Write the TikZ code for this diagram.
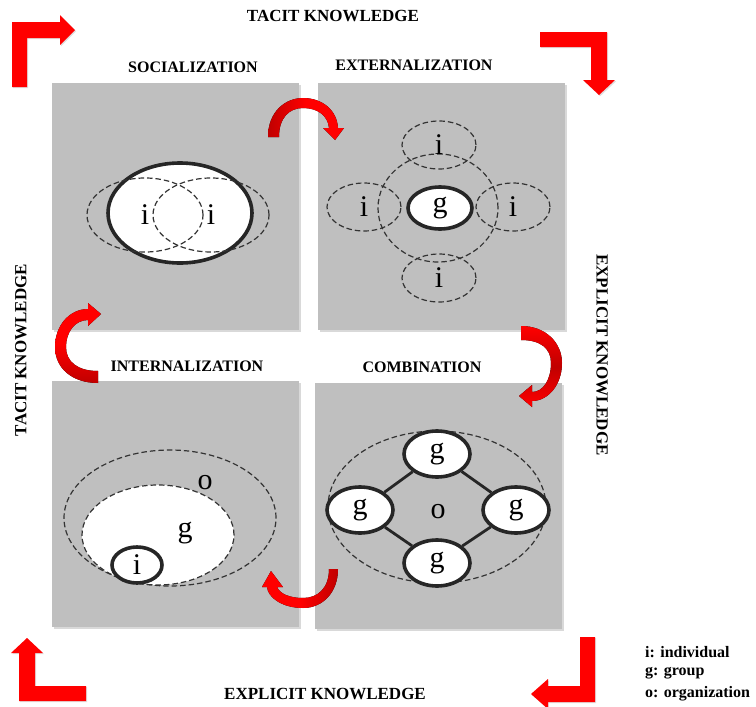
\documentclass[tikz,border=0pt]{standalone}
\usepackage{fontspec}
\setmainfont{Liberation Serif}
\usetikzlibrary{shapes.geometric,shadows}
\definecolor{panelgray}{HTML}{BFBFBF}
\definecolor{inkgray}{HTML}{333333}
\definecolor{rimblack}{HTML}{262626}
\definecolor{arrowred}{HTML}{FF0000}
\definecolor{deepred}{HTML}{C00000}

\begin{document}
\begin{tikzpicture}[x=1pt,y=-1pt,
  panel/.style={fill=panelgray,draw=none,
    drop shadow={shadow xshift=1.5pt,shadow yshift=-1.5pt,opacity=0.3}},
  phase/.style={font=\fontsize{16}{18}\selectfont\bfseries},
  axislabel/.style={font=\fontsize{17}{19}\selectfont\bfseries},
  legendtext/.style={font=\fontsize{16}{18}\selectfont\bfseries,anchor=west,inner sep=0pt},
  letter/.style={font=\fontsize{30}{32}\selectfont,inner sep=0pt},
  member/.style={ellipse,draw=inkgray,dash pattern=on 5.5pt off 3pt,line width=1.2pt,
    inner sep=0pt,font=\fontsize{30}{32}\selectfont},
  unit/.style={ellipse,draw=rimblack,fill=white,line width=3.6pt,inner sep=0pt,
    font=\fontsize{30}{32}\selectfont,
    drop shadow={shadow xshift=1pt,shadow yshift=-1pt,opacity=0.25}},
  bentarrow/.style={fill=arrowred,draw=none,
    drop shadow={shadow xshift=1.2pt,shadow yshift=-1.2pt,opacity=0.25}},
  link/.style={draw=rimblack,line width=2.8pt}
]
\useasboundingbox (0,0) rectangle (756,707);

% ---------- four quadrants ----------
\path[panel] (52,83) rectangle (299,330);
\path[panel] (318,83) rectangle (565,330);
\path[panel] (52,381) rectangle (299,627);
\path[panel] (315,383) rectangle (562,629);

% ---------- headings ----------
\node[axislabel] (tacitTop) at (333,16) {TACIT KNOWLEDGE};
\node[axislabel] (explicitBottom) at (325,694) {EXPLICIT KNOWLEDGE};
\node[axislabel,rotate=90] (tacitLeft) at (21,350) {TACIT KNOWLEDGE};
\node[axislabel,rotate=-90] (explicitRight) at (602,355) {EXPLICIT KNOWLEDGE};

\node[phase] (socTitle) at (193,67) {SOCIALIZATION};
\node[phase] (extTitle) at (414,65) {EXTERNALIZATION};
\node[phase] (intTitle) at (187,366) {INTERNALIZATION};
\node[phase] (comTitle) at (422,367) {COMBINATION};

% ---------- socialization ----------
\node[unit,minimum width=144pt,minimum height=100pt] (socShared) at (180,213) {};
\node[member,minimum width=116pt,minimum height=74pt] (socLeft) at (145,215) {i};
\node[member,minimum width=116pt,minimum height=74pt] (socRight) at (211,215) {i};

% ---------- externalization ----------
\node[member,minimum width=120pt,minimum height=108pt] (extGroup) at (438,208) {};
\node[member,minimum width=74pt,minimum height=48pt] (extTop) at (439,145) {i};
\node[member,minimum width=74pt,minimum height=48pt] (extLeft) at (364,207) {i};
\node[member,minimum width=74pt,minimum height=48pt] (extRight) at (513,207) {i};
\node[member,minimum width=74pt,minimum height=48pt] (extBottom) at (439,278) {i};
\node[unit,minimum width=64pt,minimum height=42pt] (extG) at (440,208) {g};

% ---------- internalization ----------
\node[member,minimum width=212pt,minimum height=136pt] (intOrg) at (170,518) {};
\node[member,fill=white,minimum width=152pt,minimum height=100pt] (intGroup) at (158,535) {};
\node[letter] (intO) at (205,483) {o};
\node[letter] (intG) at (185,533) {g};
\node[unit,minimum width=50pt,minimum height=36pt] (intI) at (137,565) {i};

% ---------- combination ----------
\node[member,minimum width=218pt,minimum height=152pt] (comOrg) at (437,507) {};
\node[letter] (comO) at (438,512) {o};
\node[unit,minimum width=66pt,minimum height=46pt] (comTop) at (437,454) {g};
\node[unit,minimum width=66pt,minimum height=46pt] (comLeft) at (360,510) {g};
\node[unit,minimum width=66pt,minimum height=46pt] (comRight) at (516,510) {g};
\node[unit,minimum width=66pt,minimum height=46pt] (comBottom) at (437,563) {g};
\draw[link] (comTop) -- (comLeft);
\draw[link] (comTop) -- (comRight);
\draw[link] (comBottom) -- (comLeft);
\draw[link] (comBottom) -- (comRight);

% ---------- curved transition arrows ----------
% socialization -> externalization
\fill[left color=deepred,right color=arrowred,middle color=arrowred]
  (268,137) .. controls (268,112) and (285,98) .. (303,98)
  .. controls (322,98) and (337,110) .. (338,128)
  -- (344,128) -- (335,140) -- (323,128) -- (329,128)
  .. controls (328,116) and (318,108) .. (303,108)
  .. controls (289,108) and (279,118) .. (279,137) -- cycle;
% externalization -> combination
\fill[top color=arrowred,bottom color=arrowred,middle color=deepred]
  (521,326) .. controls (546,326) and (562,343) .. (562,363)
  .. controls (562,385) and (548,401) .. (532,401)
  -- (532,407) -- (519,396) -- (532,385) -- (532,392)
  .. controls (543,392) and (551,380) .. (551,363)
  .. controls (551,348) and (540,340) .. (521,340) -- cycle;
% combination -> internalization
\fill[left color=arrowred,right color=deepred,middle color=arrowred]
  (338,569) .. controls (338,592) and (323,608) .. (303,608)
  .. controls (283,608) and (268,598) .. (267,587)
  -- (262,587) -- (271,571) -- (283,587) -- (277,587)
  .. controls (280,594) and (290,598) .. (303,598)
  .. controls (318,598) and (329,588) .. (329,569) -- cycle;
% internalization -> socialization
\fill[top color=arrowred,bottom color=deepred,middle color=arrowred]
  (98,383) .. controls (72,383) and (55,368) .. (55,347)
  .. controls (55,325) and (70,309) .. (88,309)
  -- (88,303) -- (101,314) -- (88,326) -- (88,320)
  .. controls (75,320) and (66,332) .. (66,347)
  .. controls (66,362) and (78,371) .. (98,371) -- cycle;

% ---------- bent corner arrows ----------
\path[bentarrow] (12,87) -- (12,22) -- (60,22) -- (60,15) -- (75,30) -- (60,45)
  -- (60,38) -- (27,38) -- (27,87) -- cycle;
\path[bentarrow] (540,32) -- (607,32) -- (607,80) -- (615,80) -- (599,95) -- (583,80)
  -- (591,80) -- (591,47) -- (540,47) -- cycle;
\path[bentarrow] (86,701) -- (19,701) -- (19,653) -- (11,653) -- (27,638) -- (43,653)
  -- (35,653) -- (35,686) -- (86,686) -- cycle;
\path[bentarrow] (595,637) -- (595,702) -- (548,702) -- (548,709) -- (531,694) -- (548,679)
  -- (548,686) -- (580,686) -- (580,637) -- cycle;

% ---------- legend ----------
\node[legendtext] (keyI) at (645,652) {i: individual};
\node[legendtext] (keyG) at (645,673) {g: group};
\node[legendtext] (keyO) at (645,694) {o: organization};
\end{tikzpicture}
\end{document}
